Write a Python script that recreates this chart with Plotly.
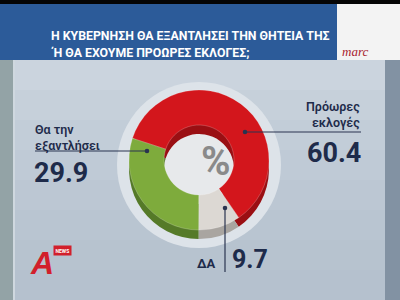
import plotly.graph_objects as go

# ---- data ----
labels = ["Πρόωρες εκλογές", "ΔΑ", "Θα την εξαντλήσει"]
values = [60.4, 9.7, 29.9]
top_colors = ["#d3161c", "#dcd8d3", "#7eab3c"]
side_colors = ["#9a0f13", "#a9a5a0", "#557a28"]
title_lines = ["Η ΚΥΒΕΡΝΗΣΗ ΘΑ ΕΞΑΝΤΛΗΣΕΙ ΤΗΝ ΘΗΤΕΙΑ ΤΗΣ",
               "Ή ΘΑ ΕΧΟΥΜΕ ΠΡΟΩΡΕΣ ΕΚΛΟΓΕΣ;"]

W, H = 400, 300
def px(x): return x / W
def py(y): return 1 - y / H

CX, CY, R, DEPTH = 199, 160, 70, 9

def dom(cy):
    return dict(x=[px(CX - R), px(CX + R)], y=[py(cy + R), py(cy - R)])

fig = go.Figure()
common = dict(labels=labels, values=values, sort=False, direction="clockwise",
              rotation=288, hole=0.5, textinfo="none", hoverinfo="label+value",
              showlegend=False)
fig.add_trace(go.Pie(domain=dom(CY + DEPTH), marker=dict(colors=side_colors, line=dict(width=0)), **common))
fig.add_trace(go.Pie(domain=dom(CY), marker=dict(colors=top_colors, line=dict(color="rgba(255,255,255,0.35)", width=0.6)), **common))

shapes = []
def rect(x0, y0, x1, y1, color, layer="below"):
    shapes.append(dict(type="rect", xref="paper", yref="paper", x0=px(x0), x1=px(x1),
                       y0=py(y1), y1=py(y0), fillcolor=color, line=dict(width=0), layer=layer))

# background gradient bands
bands = ["#cbd4de", "#c6d0da", "#c2cdd8", "#bfcad6", "#bcc7d3", "#b9c5d1", "#b7c3cf", "#b5c1ce"]
bh = (H - 60) / len(bands)
for i, c in enumerate(bands):
    rect(0, 60 + i * bh, W, 60 + (i + 1) * bh + 1, c)
rect(0, 60, 13, 300, "#93a3a6")
rect(13, 60, 15, 300, "#cfd8df")
rect(385, 60, 400, 300, "#8292a3")
# header
rect(0, 0, 400, 4, "#050505")
rect(0, 4, 337, 60, "#2c5b99")
rect(337, 4, 400, 60, "#f3f3f3")
# halo
shapes.append(dict(type="circle", xref="paper", yref="paper", x0=px(CX - 82), x1=px(CX + 82),
                   y0=py(CY + 88), y1=py(CY - 78), fillcolor="#dde3e9", line=dict(width=0), layer="below"))
shapes.append(dict(type="circle", xref="paper", yref="paper", x0=px(CX - 40), x1=px(CX + 40),
                   y0=py(CY + 40), y1=py(CY - 40), fillcolor="#e7e9eb", line=dict(width=0), layer="below"))

line_col = "#2a3450"
def seg(x0, y0, x1, y1):
    shapes.append(dict(type="line", xref="paper", yref="paper", x0=px(x0), x1=px(x1),
                       y0=py(y0), y1=py(y1), line=dict(color=line_col, width=1.2), layer="above"))
def dot(x, y, r=2.3):
    shapes.append(dict(type="circle", xref="paper", yref="paper", x0=px(x - r), x1=px(x + r),
                       y0=py(y + r), y1=py(y - r), fillcolor=line_col, line=dict(width=0), layer="above"))
seg(35, 151, 147, 151); dot(147, 151)
seg(245, 132, 361, 132); dot(245, 132)
seg(225, 208, 225, 272); dot(225, 208)

ann = []
def text(x, y, s, size, color="#1e2b4a", xa="left", ya="middle", family="Roboto", weight="bold", align="left", **kw):
    ann.append(dict(x=px(x), y=py(y), xref="paper", yref="paper", text=s, showarrow=False,
                    xanchor=xa, yanchor=ya, align=align,
                    font=dict(family=family, size=size, color=color, weight=weight), **kw))

text(49, 36, title_lines[0], 12.3, color="white", family="Liberation Sans Narrow, Roboto")
text(49, 53, title_lines[1], 12.3, color="white", family="Liberation Sans Narrow, Roboto")
text(340, 51, "<i>marc</i>", 13, color="#a8232f", family="Liberation Serif", weight="normal")

text(33, 120, "Θα την<br>εξαντλήσει", 12.5, ya="top", weight=600)
text(32, 173, "29.9", 27)
text(362, 97, "Πρόωρες<br>εκλογές", 12.5, xa="right", ya="top", align="right", weight=600)
text(363, 153, "60.4", 27, xa="right")
text(218, 263, "ΔΑ", 13, xa="right")
text(230, 259, "9.7", 25)
text(CX, CY + 1, "%", 40, color="#8a8a8a")

# Alpha logo
text(28, 263, "<i>Α</i>", 32, color="#d21f2b", family="Liberation Sans")
text(62, 250, "NEWS", 5, color="white", xa="center", bgcolor="#d21f2b", borderpad=1.5)

fig.update_layout(width=W, height=H, margin=dict(l=0, r=0, t=0, b=0),
                  paper_bgcolor="#bfcad6", plot_bgcolor="#bfcad6",
                  shapes=shapes, annotations=ann)
fig.write_html("out.html")
